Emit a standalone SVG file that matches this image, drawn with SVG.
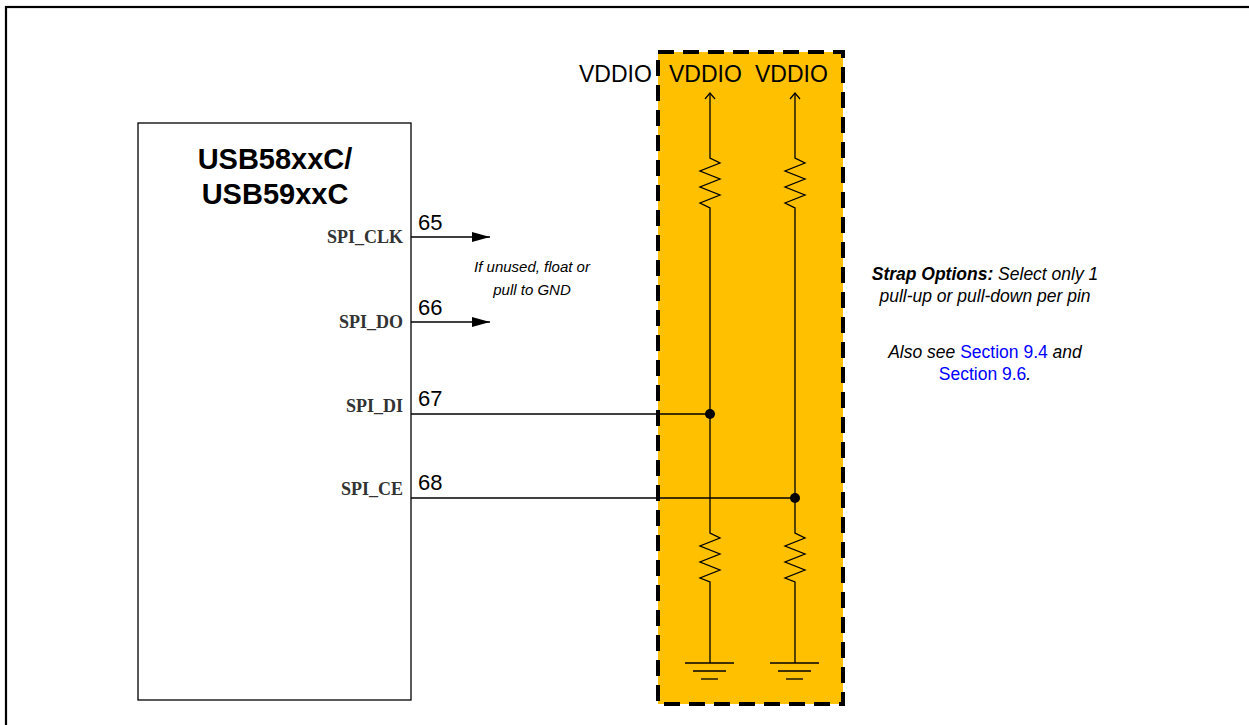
<svg xmlns="http://www.w3.org/2000/svg" width="1249" height="725" viewBox="0 0 1249 725">
<defs>
<style>
.w{stroke:#000;stroke-width:1.3;fill:none}
.t{font-family:"Liberation Sans",Arial,sans-serif;fill:#000}
.pin{font-family:"Liberation Serif","Times New Roman",serif;font-weight:bold;font-size:18px;fill:#333;text-anchor:end}
.num{font-family:"Liberation Sans",Arial,sans-serif;font-size:22px;fill:#000}
.note{font-family:"Liberation Sans",Arial,sans-serif;font-size:15px;font-style:italic;fill:#000;text-anchor:middle}
.strap{font-size:17.5px}
.lnk{fill:#0000FF;font-style:normal}
.vd{font-family:"Liberation Sans",Arial,sans-serif;font-size:23px;fill:#000}
</style>
<marker id="ah" markerWidth="20" markerHeight="12" refX="18" refY="6" orient="auto" markerUnits="userSpaceOnUse">
<path d="M0,1 L18,6 L0,11 Z" fill="#000"/>
</marker>
<marker id="up" markerWidth="14" markerHeight="10" refX="7" refY="1" orient="0" markerUnits="userSpaceOnUse">
<path d="M2,7 L7,1 L12,7" fill="none" stroke="#000" stroke-width="1.2"/>
</marker>
</defs>
<rect x="6" y="7" width="1260" height="730" fill="#fff" stroke="#000" stroke-width="2.2"/>
<g id="strap-region">
<rect x="658" y="52" width="185" height="652" fill="#FFC000" stroke="#000" stroke-width="4" stroke-dasharray="16,9"/>
</g>
<g id="chip">
<rect x="138" y="123" width="273" height="577" fill="#fff" stroke="#000" stroke-width="1.3"/>
<text class="t" x="275" y="169" font-size="29" font-weight="bold" text-anchor="middle">USB58xxC/</text>
<text class="t" x="275" y="204" font-size="29" font-weight="bold" text-anchor="middle">USB59xxC</text>
<text class="pin" x="403" y="243">SPI_CLK</text>
<text class="pin" x="403" y="328">SPI_DO</text>
<text class="pin" x="403" y="412">SPI_DI</text>
<text class="pin" x="403" y="495">SPI_CE</text>
</g>
<g id="connectors">
<line class="w" x1="411" y1="237" x2="490" y2="237" marker-end="url(#ah)"/>
<line class="w" x1="411" y1="322" x2="490" y2="322" marker-end="url(#ah)"/>
<line class="w" x1="411" y1="414" x2="710" y2="414"/>
<line class="w" x1="411" y1="498" x2="795" y2="498"/>
</g>
<g id="pin-numbers">
<text class="num" x="418" y="230">65</text>
<text class="num" x="418" y="315">66</text>
<text class="num" x="418" y="406">67</text>
<text class="num" x="418" y="490">68</text>
</g>
<g id="vddio-labels">
<text class="vd" x="579" y="82">VDDIO</text>
<text class="vd" x="669" y="82">VDDIO</text>
<text class="vd" x="755" y="82">VDDIO</text>
</g>
<g id="column-1">
<path class="w" d="M710,93 V158 L720,163 L700,171 L720,179 L700,187 L720,195 L700,203 L710,208 V533 L720,538 L700,546 L720,554 L700,562 L720,570 L700,578 L710,582 V663" marker-start="url(#up)"/>
<line class="w" x1="685" y1="663" x2="734" y2="663"/>
<line class="w" x1="693" y1="671" x2="726" y2="671"/>
<line class="w" x1="701" y1="679" x2="718" y2="679"/>
<circle cx="710" cy="414" r="5" fill="#000"/>
</g>
<g id="column-2">
<path class="w" d="M795,93 V158 L805,163 L785,171 L805,179 L785,187 L805,195 L785,203 L795,208 V533 L805,538 L785,546 L805,554 L785,562 L805,570 L785,578 L795,582 V663" marker-start="url(#up)"/>
<line class="w" x1="770" y1="663" x2="819" y2="663"/>
<line class="w" x1="778" y1="671" x2="811" y2="671"/>
<line class="w" x1="786" y1="679" x2="803" y2="679"/>
<circle cx="795" cy="498" r="5" fill="#000"/>
</g>
<g id="note-unused">
<text class="note" x="532" y="272">If unused, float or</text>
<text class="note" x="532" y="295">pull to GND</text>
</g>
<g id="note-strap">
<text class="note strap" x="985" y="280"><tspan font-weight="bold">Strap Options:</tspan> Select only 1</text>
<text class="note strap" x="985" y="302">pull-up or pull-down per pin</text>
<text class="note strap" x="985" y="358">Also see <tspan class="lnk">Section 9.4</tspan> and</text>
<text class="note strap" x="985" y="380"><tspan class="lnk">Section 9.6</tspan>.</text>
</g>
</svg>
